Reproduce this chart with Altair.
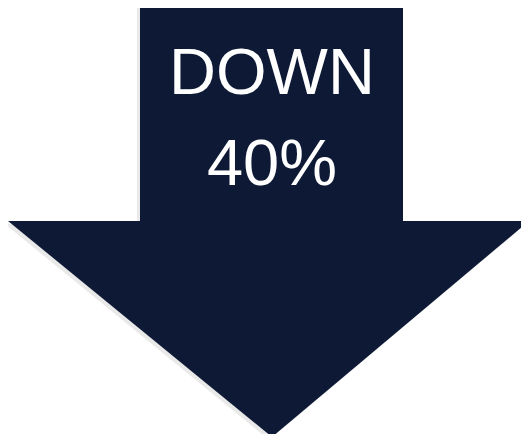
import altair as alt
import pandas as pd

# Arrow geometry (in page-pixel units, mapped through linear scales)
shaft_left = [140]
shaft_right = [403]
shaft_top = [4]
shaft_bottom = [221]

head_x = [8, 272, 529]
head_top = [221, 221, 221]
head_bottom = [221, 437, 221]

labels = ["DOWN", "40%"]
label_x = [272, 272]
label_y = [94, 185]

NAVY = "#0e1a35"

xs = alt.Scale(domain=[8, 521], nice=False, zero=False)
ys = alt.Scale(domain=[434, 8], nice=False, zero=False)

shaft_df = pd.DataFrame({"x": shaft_left, "x2": shaft_right, "y": shaft_top, "y2": shaft_bottom})
head_df = pd.DataFrame({"x": head_x, "y": head_top, "y2": head_bottom})
text_df = pd.DataFrame({"label": labels, "x": label_x, "y": label_y})

def shaft(color, opacity, dx=0, dy=0):
    return alt.Chart(shaft_df).mark_rect(color=color, opacity=opacity, xOffset=dx, yOffset=dy, x2Offset=dx, y2Offset=dy).encode(
        x=alt.X("x:Q", scale=xs, axis=None), x2="x2:Q",
        y=alt.Y("y:Q", scale=ys, axis=None), y2="y2:Q")

def head(color, opacity, dx=0, dy=0):
    return alt.Chart(head_df).mark_area(color=color, opacity=opacity, xOffset=dx, yOffset=dy, y2Offset=dy, x2Offset=dx).encode(
        x=alt.X("x:Q", scale=xs, axis=None),
        y=alt.Y("y:Q", scale=ys, axis=None), y2="y2:Q")

text = alt.Chart(text_df).mark_text(color="white", fontSize=65, font="Liberation Sans",
                                    align="center", baseline="alphabetic").encode(
    x=alt.X("x:Q", scale=xs, axis=None),
    y=alt.Y("y:Q", scale=ys, axis=None),
    text="label:N")

chart = alt.layer(
    shaft("#9a9a9a", 0.22, -3, 3), head("#9a9a9a", 0.22, -3, 3),
    shaft(NAVY, 1), head(NAVY, 1), text
).properties(width=513, height=426, padding=0, autosize="none",
             background="white").configure_view(stroke=None)

chart.save("out.html", embed_options={"renderer": "svg", "actions": False})
